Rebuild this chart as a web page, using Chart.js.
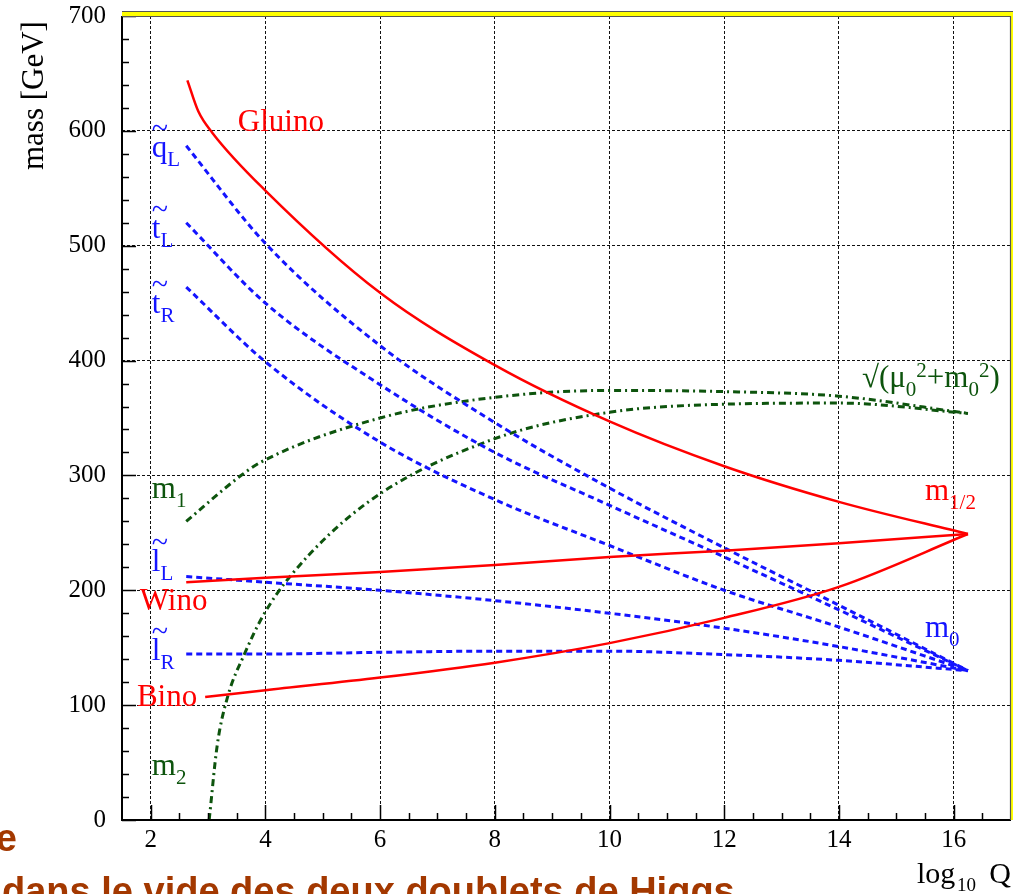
<!DOCTYPE html>
<html>
<head>
<meta charset="utf-8">
<script src="https://cdn.jsdelivr.net/npm/chart.js@4.4.1/dist/chart.umd.min.js"></script>
<style>
  html, body { margin: 0; padding: 0; background: #fff; }
  #wrap { position: relative; width: 1013px; height: 894px; overflow: hidden; }
</style>
</head>
<body>
<div id="wrap"><canvas id="chart" width="1013" height="894"></canvas></div>
<script>
// tick labels
const xTicks = [2, 4, 6, 8, 10, 12, 14, 16];
const yTicks = [0, 100, 200, 300, 400, 500, 600, 700];

// gauginos (solid red)
const gluinoX = [2.64, 2.83, 3.08, 4, 6, 8, 10, 12, 14, 16.25];
const gluinoY = [644, 617, 598, 548, 459, 396, 347, 308, 277, 249];
const winoX = [2.62, 4, 6, 8, 10, 12, 14, 16.25];
const winoY = [207, 211, 216, 222, 229, 234.5, 241, 249];
const binoX = [2.95, 4, 6, 8, 10, 12, 14, 16.25];
const binoY = [107, 113, 124, 137, 154, 176, 203, 249];

// sfermions (dashed blue), all share the same Q points
const sfermionX = [2.62, 4, 6, 8, 10, 12, 14, 16.25];
const qLY = [587, 502, 413, 346, 289, 237, 187, 130];
const tLY = [520, 450, 379, 320, 274, 229, 183, 130];
const tRY = [464, 399, 329, 279, 239, 200, 168, 130];
const lLY = [212, 207, 200, 191, 180, 167, 151, 130];
const lRY = [144.5, 144.5, 146, 147, 147, 144, 139, 130];

// Higgs mass parameters (dash-dot green)
const m1X = [2.62, 3.55, 3.9, 6, 8, 10, 12, 14, 16.25];
const m1Y = [260, 299, 311, 350, 368, 374, 373, 369, 354];
const m2X = [3.02, 3.16, 3.34, 3.64, 3.95, 4.43, 5.77, 8, 10, 12, 14, 16.25];
const m2Y = [0, 65, 107, 145, 177, 212, 276, 332, 355, 362, 363, 354];

const RED = '#ff0000';
const BLUE = '#1414ff';
const GREEN = '#0d540d';
const SERIF = '"Liberation Serif", "Times New Roman", serif';

function series(label, xs, ys, style) {
    return {
        label,
        data: xs.map((x, i) => ({ x, y: ys[i] })),
        pointRadius: 0,
        fill: false,
        cubicInterpolationMode: 'monotone',
        ...style
    };
}

const redLine = { borderColor: RED, borderWidth: 2.5 };
const blueLine = { borderColor: BLUE, borderWidth: 3, borderDash: [6, 4] };
const greenLine = { borderColor: GREEN, borderWidth: 3, borderDash: [7, 4, 2, 4] };

// text annotations, placed in data coordinates
const labels = [
    { x: 3.52, y: 600, color: RED, parts: [{ t: 'Gluino' }] },
    { x: 2.02, y: 577, color: BLUE, parts: [{ t: 'q', tilde: true }, { t: 'L', sub: true }] },
    { x: 2.02, y: 507, color: BLUE, parts: [{ t: 't', tilde: true }, { t: 'L', sub: true }] },
    { x: 2.02, y: 441, color: BLUE, parts: [{ t: 't', tilde: true }, { t: 'R', sub: true }] },
    { x: 2.02, y: 280, color: GREEN, parts: [{ t: 'm' }, { t: '1', sub: true }] },
    { x: 2.02, y: 217, color: BLUE, parts: [{ t: 'l', tilde: true }, { t: 'L', sub: true }] },
    { x: 1.81, y: 183, color: RED, parts: [{ t: 'Wino' }] },
    { x: 2.02, y: 139, color: BLUE, parts: [{ t: 'l', tilde: true }, { t: 'R', sub: true }] },
    { x: 1.76, y: 99, color: RED, parts: [{ t: 'Bino' }] },
    { x: 2.02, y: 39, color: GREEN, parts: [{ t: 'm' }, { t: '2', sub: true }] },
    { x: 14.40, y: 377, color: GREEN, parts: [{ t: '√(μ' }, { t: '0', sub: true }, { t: '2', sup: true }, { t: '+m' }, { t: '0', sub: true }, { t: '2', sup: true }, { t: ')' }] },
    { x: 15.50, y: 279, color: RED, parts: [{ t: 'm' }, { t: '1/2', sub: true }] },
    { x: 15.50, y: 159, color: BLUE, parts: [{ t: 'm' }, { t: '0', sub: true }] }
];

function drawRich(ctx, px, py, parts, color) {
    let cx = px;
    ctx.fillStyle = color;
    ctx.textAlign = 'left';
    ctx.textBaseline = 'alphabetic';
    parts.forEach(p => {
        const small = p.sub || p.sup;
        ctx.font = (small ? '21px ' : '31px ') + SERIF;
        const dy = p.sub ? 9 : (p.sup ? -10 : 0);
        ctx.fillText(p.t, cx, py + dy);
        const w = ctx.measureText(p.t).width;
        if (p.tilde) {
            ctx.font = '30px ' + SERIF;
            ctx.fillText('~', cx, py - 19);
        }
        cx += w;
    });
}

const frame = {
    id: 'frame',
    afterDatasetsDraw(chart) {
        const { ctx, chartArea: a, scales: { x, y } } = chart;
        ctx.save();

        // axes
        ctx.strokeStyle = '#000';
        ctx.lineWidth = 2;
        ctx.beginPath();
        ctx.moveTo(a.left, a.top);
        ctx.lineTo(a.left, a.bottom);
        ctx.lineTo(a.right, a.bottom);
        ctx.stroke();

        // inward ticks
        ctx.lineWidth = 1.5;
        ctx.beginPath();
        for (let v = 0; v <= 700; v += 20) {
            const py = Math.round(y.getPixelForValue(v)) + 0.5;
            const len = v % 100 === 0 ? 14 : 7;
            ctx.moveTo(a.left, py);
            ctx.lineTo(a.left + len, py);
        }
        for (let v = 2; v <= 16.5; v += 0.5) {
            const px = Math.round(x.getPixelForValue(v)) + 0.5;
            const len = v % 2 === 0 ? 15 : 7;
            ctx.moveTo(px, a.bottom);
            ctx.lineTo(px, a.bottom - len);
        }
        ctx.stroke();

        // yellow frame on top and right
        ctx.fillStyle = '#ffff00';
        ctx.fillRect(a.left, a.top - 5, chart.width - a.left, 5);
        ctx.fillRect(a.right, a.top - 5, chart.width - a.right, a.bottom - a.top + 5);
        ctx.strokeStyle = '#555';
        ctx.lineWidth = 1.2;
        ctx.beginPath();
        ctx.moveTo(a.left, a.top - 4.5);
        ctx.lineTo(chart.width, a.top - 4.5);
        ctx.moveTo(a.left, a.top + 0.5);
        ctx.lineTo(a.right, a.top + 0.5);
        ctx.moveTo(a.right - 0.5, a.top);
        ctx.lineTo(a.right - 0.5, a.bottom);
        ctx.stroke();

        // curve labels
        labels.forEach(l => {
            drawRich(ctx, x.getPixelForValue(l.x), y.getPixelForValue(l.y), l.parts, l.color);
        });

        // axis titles
        ctx.fillStyle = '#000';
        ctx.font = '31px ' + SERIF;
        ctx.save();
        ctx.translate(43, 170);
        ctx.rotate(-Math.PI / 2);
        ctx.textAlign = 'left';
        ctx.fillText('mass [GeV]', 0, 0);
        ctx.restore();

        ctx.textAlign = 'left';
        ctx.font = '30px ' + SERIF;
        ctx.fillText('log', a.right - 94, a.bottom + 63);
        ctx.font = '19px ' + SERIF;
        ctx.fillText('10', a.right - 54, a.bottom + 71);
        ctx.font = '30px ' + SERIF;
        ctx.textAlign = 'right';
        ctx.fillText('Q', a.right, a.bottom + 63);

        // bits of the slide around the figure
        ctx.fillStyle = '#a33800';
        ctx.font = 'bold 38px "Liberation Sans", Arial, sans-serif';
        ctx.textAlign = 'right';
        ctx.fillText('e', 17, 851);
        ctx.textAlign = 'left';
        ctx.fillText('dans le vide des deux doublets de Higgs', 2, 904);

        ctx.restore();
    }
};

new Chart(document.getElementById('chart'), {
    type: 'line',
    data: {
        datasets: [
            series('Gluino', gluinoX, gluinoY, redLine),
            series('Wino', winoX, winoY, redLine),
            series('Bino', binoX, binoY, redLine),
            series('qL', sfermionX, qLY, blueLine),
            series('tL', sfermionX, tLY, blueLine),
            series('tR', sfermionX, tRY, blueLine),
            series('lL', sfermionX, lLY, blueLine),
            series('lR', sfermionX, lRY, blueLine),
            series('m1', m1X, m1Y, greenLine),
            series('m2', m2X, m2Y, greenLine)
        ]
    },
    options: {
        responsive: false,
        devicePixelRatio: 1,
        animation: false,
        layout: { padding: { top: 16, right: 2, left: 0, bottom: 0 } },
        plugins: { legend: { display: false }, tooltip: { enabled: false } },
        scales: {
            x: {
                type: 'linear',
                min: 1.5,
                max: 17,
                afterBuildTicks: s => { s.ticks = xTicks.map(v => ({ value: v })); },
                afterFit: s => { s.height = 74; s.paddingLeft = 0; s.paddingRight = 0; },
                grid: { color: '#111', lineWidth: 1, drawTicks: false },
                border: { display: false, dash: [3, 2] },
                ticks: { font: { family: SERIF, size: 25 }, color: '#000', padding: 5, maxRotation: 0, autoSkip: false }
            },
            y: {
                min: 0,
                max: 700,
                afterBuildTicks: s => { s.ticks = yTicks.map(v => ({ value: v })); },
                afterFit: s => { s.width = 122; s.paddingTop = 0; s.paddingBottom = 0; },
                grid: { color: '#111', lineWidth: 1, drawTicks: false },
                border: { display: false, dash: [3, 2] },
                ticks: { font: { family: SERIF, size: 25 }, color: '#000', padding: 16, autoSkip: false }
            }
        }
    },
    plugins: [frame]
});
</script>
</body>
</html>
